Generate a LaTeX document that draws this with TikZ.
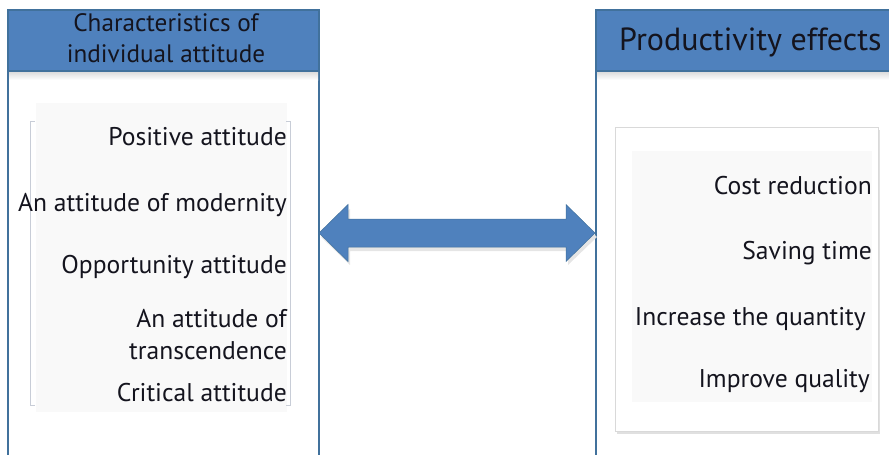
\documentclass[tikz,border=0pt]{standalone}
\usepackage{fontspec}
\setmainfont{PT Sans}
\definecolor{hdrblue}{RGB}{79,129,189}
\definecolor{hdrline}{RGB}{65,113,156}
\definecolor{txtdark}{RGB}{20,20,30}
\definecolor{panelgray}{RGB}{249,249,249}
\definecolor{brkgray}{RGB}{200,205,215}
\begin{document}
\begin{tikzpicture}[x=1pt,y=-1pt,
  panel/.style={draw=hdrline,line width=1.3pt,fill=white},
  header/.style={draw=hdrline,line width=1.3pt,fill=hdrblue},
  itemtxt/.style={anchor=east,inner sep=0pt,text=txtdark,font=\fontsize{25.6}{32}\selectfont,align=right},
  hdrtxt/.style={inner sep=0pt,text=txtdark,align=center},
  bigarrow/.style={fill=hdrblue,draw=hdrline,line width=0.5pt}]
\useasboundingbox (0,0) rectangle (889,455);
% left panel
\draw[panel] (8,465) -- (8,10) -- (319,10) -- (319,465);
\shade[top color=black!15,bottom color=white] (9,71) rectangle (318,80);
\draw[header] (8,10) rectangle (319,71);
\node[hdrtxt,font=\fontsize{25.2}{31}\selectfont] (lhead) at (166,38) {Characteristics of\\individual attitude};
% left inner area
\fill[panelgray] (36,103) rectangle (287,412);
\draw[brkgray,line width=0.7pt] (35,121) -- (30,121) -- (30,405) -- (35,405);
\draw[brkgray,line width=0.7pt] (286,121) -- (290,121) -- (290,405) -- (286,405);
\node[itemtxt] (l1) at (287,137) {Positive attitude};
\node[itemtxt] (l2) at (287,205) {An attitude of modernity};
\node[itemtxt] (l3) at (287,267) {Opportunity attitude};
\node[itemtxt] (l4) at (287,335) {An attitude of\\transcendence};
\node[itemtxt] (l5) at (287,393) {Critical attitude};
% right panel
\draw[panel] (596,465) -- (596,10) -- (900,10);
\shade[top color=black!15,bottom color=white] (597,71) rectangle (889,80);
\draw[header] (596,10) rectangle (900,71);
\node[hdrtxt,anchor=west,font=\fontsize{32}{36}\selectfont] (rhead) at (619,42) {Productivity effects};
% right inner box
\fill[black!12] (617,130) rectangle (880,434);
\draw[black!15,fill=white,line width=0.7pt] (615,127) rectangle (878,431);
\fill[panelgray] (632,151) rectangle (872,402);
\node[itemtxt] (r1) at (872,186) {Cost reduction};
\node[itemtxt] (r2) at (872,253) {Saving time};
\node[itemtxt] (r3) at (866,319) {Increase the quantity};
\node[itemtxt] (r4) at (870,381) {Improve quality};
% double arrow
\coordinate (atl) at (319,233);
\coordinate (atr) at (595,233);
\fill[black!10] ([shift={(2,4)}]atl) -- ++(29,-28) -- ++(0,14) -- ++(218,0) -- ++(0,-14) -- ++(29,28) -- ++(-29,28) -- ++(0,-14) -- ++(-218,0) -- ++(0,14) -- cycle;
\draw[bigarrow] (atl) -- ++(29,-28.5) -- ++(0,14.5) -- ++(218,0) -- ++(0,-14.5) -- (atr) -- ++(-29,28.5) -- ++(0,-14.5) -- ++(-218,0) -- ++(0,14.5) -- cycle;
\end{tikzpicture}
\end{document}
